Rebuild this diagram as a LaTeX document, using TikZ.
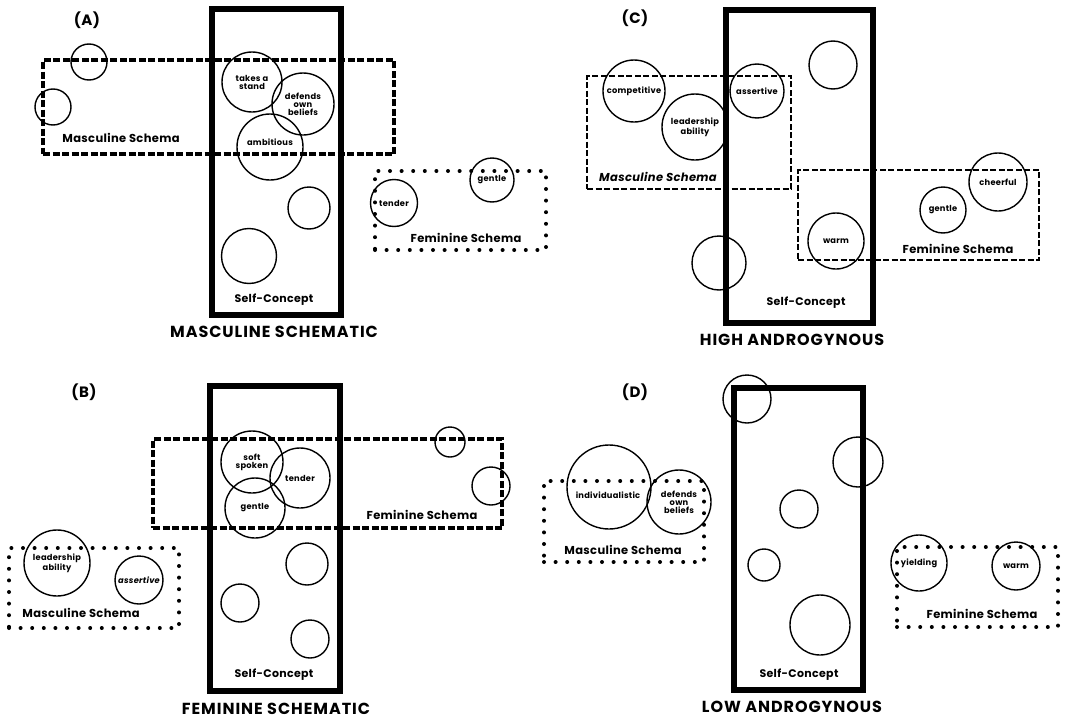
\documentclass[tikz,border=0pt]{standalone}
\usepackage{fontspec}
\setmainfont{Poppins}
\newfontfamily\titlefont[LetterSpace=6]{Poppins}
\newfontfamily\traitfont[LetterSpace=3]{Poppins}
\begin{document}
\begin{tikzpicture}[x=1pt,y=-1pt,
  every node/.style={font=\bfseries},
  selfbox/.style={draw, line width=6.5pt, rectangle, inner sep=0pt},
  thickdash/.style={draw, line width=4.5pt, dash pattern=on 7pt off 2.5pt, rectangle, inner sep=0pt},
  thindash/.style={draw, line width=2pt, dash pattern=on 6pt off 2.5pt, rectangle, inner sep=0pt},
  dotbox/.style={draw, line width=4pt, line cap=round, dash pattern=on 0pt off 11.6pt, rectangle, inner sep=0pt},
  trait/.style={draw, circle, line width=1.4pt, inner sep=0pt, align=center, font=\traitfont\bfseries\fontsize{8.3}{8}\selectfont},
  traittext/.style={inner sep=0pt, align=center, font=\traitfont\bfseries\fontsize{8.3}{8}\selectfont},
  panel/.style={font=\traitfont\bfseries\fontsize{15}{15}\selectfont},
  schemalabel/.style={font=\traitfont\bfseries\fontsize{11.5}{11}\selectfont},
  selflabel/.style={font=\traitfont\bfseries\fontsize{11}{11}\selectfont},
  ttl/.style={font=\titlefont\bfseries\fontsize{16}{16}\selectfont}
]
\useasboundingbox (0,0) rectangle (1071,720);

% ---------- Panel A ----------
\node[panel] (labA) at (87,20) {(A)};
\node[selfbox, minimum width=129pt, minimum height=306pt] (selfA) at (276.5,162) {};
\node[thickdash, minimum width=351pt, minimum height=94pt] (mascA) at (218.5,107) {};
\node[dotbox, minimum width=171pt, minimum height=79pt] (femA) at (460.5,210.5) {};
\node[trait, minimum size=36pt] (a1) at (89,62) {};
\node[trait, minimum size=36pt] (a2) at (53,107) {};
\node[trait, minimum size=60pt] (a3) at (252,82) {takes a\\stand};
\node[trait, minimum size=62pt] (a4) at (303,104) {defends\\own\\beliefs};
\node[trait, minimum size=66pt] (a5) at (270,147) {};
\node[traittext] (a5t) at (270,142) {ambitious};
\node[trait, minimum size=42pt] (a6) at (309,208) {};
\node[trait, minimum size=55pt] (a7) at (249,256) {};
\node[trait, minimum size=47pt] (a8) at (394,203) {tender};
\node[trait, minimum size=44pt] (a9) at (492,180) {gentle};
\node[schemalabel] (mascAl) at (121,138) {Masculine Schema};
\node[schemalabel] (femAl) at (466,238) {Feminine Schema};
\node[selflabel] (selfAl) at (274,300) {Self-Concept};
\node[ttl] (ttlA) at (274,332) {MASCULINE SCHEMATIC};

% ---------- Panel B ----------
\node[panel] (labB) at (84,392) {(B)};
\node[selfbox, minimum width=130pt, minimum height=305pt] (selfB) at (275,538.5) {};
\node[thickdash, minimum width=349pt, minimum height=89pt] (femB) at (327.5,483.5) {};
\node[dotbox, minimum width=170pt, minimum height=80pt] (mascB) at (94,588) {};
\node[trait, minimum size=62pt] (b1) at (252,462) {soft\\spoken};
\node[trait, minimum size=60pt] (b2) at (300,478) {tender};
\node[trait, minimum size=60pt] (b3) at (255,508) {gentle};
\node[trait, minimum size=30pt] (b4) at (450,442) {};
\node[trait, minimum size=38pt] (b5) at (491,486) {};
\node[trait, minimum size=42pt] (b6) at (307,564) {};
\node[trait, minimum size=38pt] (b7) at (240,603) {};
\node[trait, minimum size=38pt] (b8) at (310,639) {};
\node[trait, minimum size=66pt] (b9) at (57,563) {leadership\\ability};
\node[trait, minimum size=48pt] (b10) at (139,580) {\itshape assertive};
\node[schemalabel] (femBl) at (422,515) {Feminine Schema};
\node[schemalabel] (mascBl) at (81,613) {Masculine Schema};
\node[selflabel] (selfBl) at (274,675) {Self-Concept};
\node[ttl] (ttlB) at (276,709) {FEMININE SCHEMATIC};

% ---------- Panel C ----------
\node[panel] (labC) at (635,18) {(C)};
\node[selfbox, minimum width=147pt, minimum height=313pt] (selfC) at (799.5,166.5) {};
\node[thindash, minimum width=204pt, minimum height=113pt] (mascC) at (689,132.5) {};
\node[thindash, minimum width=241pt, minimum height=90pt] (femC) at (918.5,215) {};
\node[trait, minimum size=62pt] (c1) at (634,91) {competitive};
\node[trait, minimum size=66pt] (c2) at (695,127) {leadership\\ability};
\node[trait, minimum size=54pt] (c3) at (757,91) {assertive};
\node[trait, minimum size=48pt] (c4) at (833,65) {};
\node[trait, minimum size=54pt] (c5) at (719,263) {};
\node[trait, minimum size=56pt] (c6) at (836,241) {warm};
\node[trait, minimum size=46pt] (c7) at (943,210) {gentle};
\node[trait, minimum size=58pt] (c8) at (998,182) {cheerful};
\node[schemalabel, font=\traitfont\bfseries\itshape\fontsize{11.5}{11}\selectfont] (mascCl) at (658,177) {Masculine Schema};
\node[schemalabel] (femCl) at (958,249) {Feminine Schema};
\node[selflabel] (selfCl) at (806,303) {Self-Concept};
\node[ttl] (ttlC) at (792,340) {HIGH ANDROGYNOUS};

% ---------- Panel D ----------
\node[panel] (labD) at (635,392) {(D)};
\node[selfbox, minimum width=129pt, minimum height=302pt] (selfD) at (798.5,539) {};
\node[dotbox, minimum width=160pt, minimum height=81pt] (mascD) at (624,521.5) {};
\node[dotbox, minimum width=161pt, minimum height=80pt] (femD) at (977.5,587) {};
\node[trait, minimum size=48pt] (d1) at (747,399) {};
\node[trait, minimum size=50pt] (d2) at (858,462) {};
\node[trait, minimum size=38pt] (d3) at (799,509) {};
\node[trait, minimum size=32pt] (d4) at (764,565) {};
\node[trait, minimum size=60pt] (d5) at (820,625) {};
\node[trait, minimum size=84pt] (d6) at (609,487) {};
\node[traittext] (d6t) at (608,495) {individualistic};
\node[trait, minimum size=64pt] (d7) at (679,502) {defends\\own\\beliefs};
\node[trait, minimum size=56pt] (d8) at (919,563) {yielding};
\node[trait, minimum size=48pt] (d9) at (1016,566) {warm};
\node[schemalabel] (mascDl) at (623,550) {Masculine Schema};
\node[schemalabel] (femDl) at (982,614) {Feminine Schema};
\node[selflabel] (selfDl) at (799,675) {Self-Concept};
\node[ttl] (ttlD) at (792,707) {LOW ANDROGYNOUS};
\end{tikzpicture}
\end{document}
